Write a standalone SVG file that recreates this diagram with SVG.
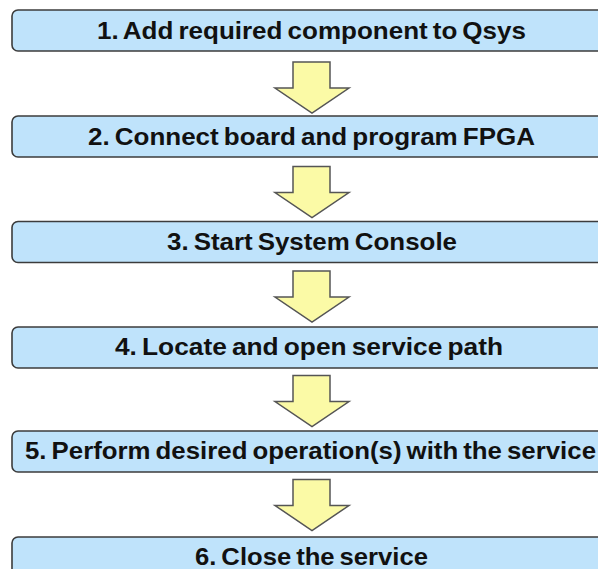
<svg xmlns="http://www.w3.org/2000/svg" width="598" height="569" viewBox="0 0 598 569">
<style>
.box{fill:#bfe3fb;stroke:#3c3c3c;stroke-width:1.6}
.lbl{font-family:"Liberation Sans",Arial,sans-serif;font-weight:bold;font-size:24px;fill:#111;word-spacing:-2px}
.arr{fill:#fbfaa6;stroke:#555;stroke-width:1.5;stroke-linejoin:miter}
</style>
<defs>
<path id="arrow" d="M293,0 H330 V26 H349 L312,51 L275,26 H293 Z"/>
</defs>
<rect x="0" y="0" width="598" height="569" fill="#fff"/>
<g id="connectors">
<use href="#arrow" class="arr" y="62"/>
<use href="#arrow" class="arr" y="166.5"/>
<use href="#arrow" class="arr" y="271"/>
<use href="#arrow" class="arr" y="375.5"/>
<use href="#arrow" class="arr" y="479.5"/>
</g>
<g id="step1"><rect class="box" x="12" y="10" width="600" height="41" rx="6"/><text class="lbl" x="97" y="39" textLength="429" lengthAdjust="spacingAndGlyphs">1. Add required component to Qsys</text></g>
<g id="step2"><rect class="box" x="12" y="116" width="600" height="41" rx="6"/><text class="lbl" x="88" y="145" textLength="447" lengthAdjust="spacingAndGlyphs">2. Connect board and program FPGA</text></g>
<g id="step3"><rect class="box" x="12" y="221.5" width="600" height="41" rx="6"/><text class="lbl" x="167" y="250" textLength="290" lengthAdjust="spacingAndGlyphs">3. Start System Console</text></g>
<g id="step4"><rect class="box" x="12" y="327" width="600" height="41" rx="6"/><text class="lbl" x="115" y="355" textLength="388" lengthAdjust="spacingAndGlyphs">4. Locate and open service path</text></g>
<g id="step5"><rect class="box" x="12" y="431" width="600" height="41" rx="6"/><text class="lbl" x="25" y="458.5" textLength="571" lengthAdjust="spacingAndGlyphs">5. Perform desired operation(s) with the service</text></g>
<g id="step6"><rect class="box" x="12" y="537" width="600" height="41" rx="6"/><text class="lbl" x="195" y="565" textLength="233" lengthAdjust="spacingAndGlyphs">6. Close the service</text></g>
</svg>
